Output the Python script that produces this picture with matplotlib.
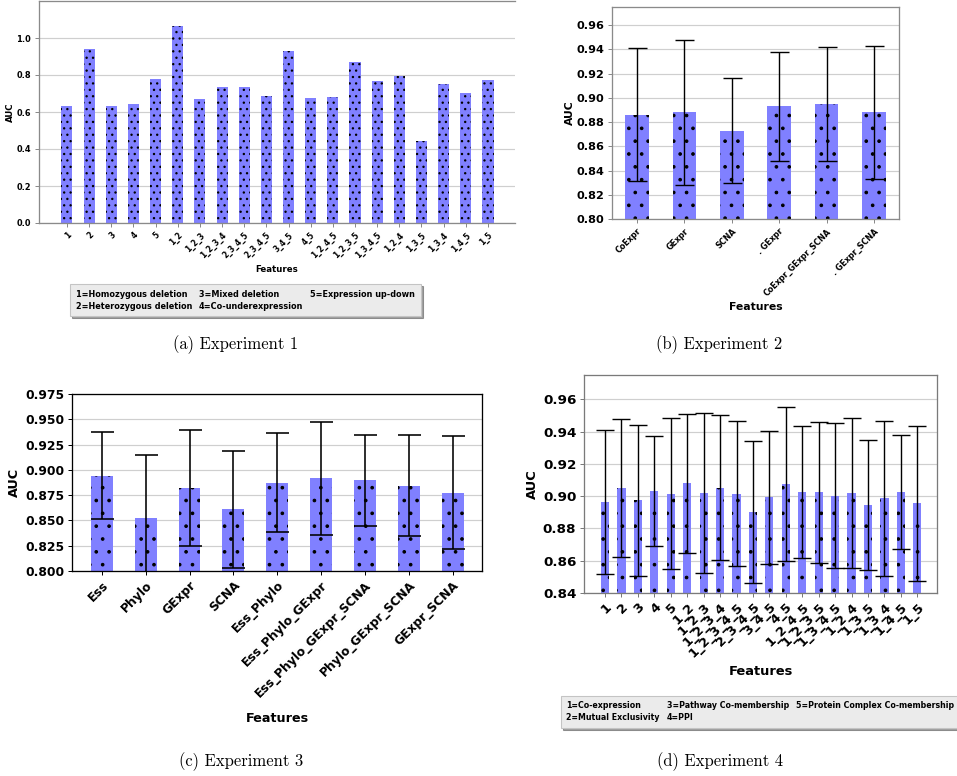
import numpy as np
import matplotlib
matplotlib.use("Agg")
import matplotlib.pyplot as plt
from matplotlib.lines import Line2D
from matplotlib.ticker import FormatStrFormatter

DPI = 77
W, H = 957, 776
BAR = "#8080ff"

plt.rcParams["font.family"] = "DejaVu Sans"
plt.rcParams["font.weight"] = "bold"
plt.rcParams["axes.labelweight"] = "bold"
plt.rcParams["hatch.color"] = "black"


def px(v):
    # pixel size -> points at the working dpi
    return v * 72 / DPI


# ---- Experiment 1 ----
exp1_labels = ["1", "2", "3", "4", "5", "1_2", "1_2_3", "1_2_3_4", "2_3_4_5",
               "2_3_4_5", "3_4_5", "4_5", "1_2_4_5", "1_2_3_5", "1_3_4_5",
               "1_2_4", "1_3_5", "1_3_4", "1_4_5", "1_5"]
exp1_auc = [0.635, 0.939, 0.635, 0.643, 0.776, 1.065, 0.668, 0.736, 0.733,
            0.684, 0.928, 0.673, 0.682, 0.870, 0.769, 0.792, 0.442, 0.751,
            0.704, 0.775]
exp1_key = ["1=Homozygous deletion", "2=Heterozygous deletion",
            "3=Mixed deletion", "4=Co-underexpression", "5=Expression up-down"]

# ---- Experiment 2 ----
exp2_labels = ["CoExpr", "GExpr", "SCNA", ". GExpr", "CoExpr_GExpr_SCNA",
               ". GExpr_SCNA"]
exp2_auc = [0.886, 0.888, 0.873, 0.893, 0.895, 0.888]
exp2_err = [0.055, 0.060, 0.043, 0.045, 0.047, 0.055]

# ---- Experiment 3 ----
exp3_labels = ["Ess", "Phylo", "GExpr", "SCNA", "Ess_Phylo", "Ess_Phylo_GExpr",
               "Ess_Phylo_GExpr_SCNA", "Phylo_GExpr_SCNA", "GExpr_SCNA"]
exp3_auc = [0.894, 0.852, 0.882, 0.861, 0.8875, 0.8915, 0.8898, 0.8845, 0.8776]
exp3_err = [0.043, 0.063, 0.057, 0.058, 0.0485, 0.056, 0.045, 0.050, 0.056]

# ---- Experiment 4 ----
exp4_labels = ["1", "2", "3", "4", "5", "1_2", "1_2_3", "1_2_3_4", "1_2_3_4_5",
               "2_3_4_5", "3_4_5", "4_5", "1_2_4_5", "1_2_3_5", "1_3_4_5",
               "1_2_4", "1_3_5", "1_3_4", "1_4_5", "1_5"]
exp4_auc = [0.8965, 0.905, 0.8973, 0.9031, 0.9015, 0.908, 0.9019, 0.9052,
            0.9015, 0.890, 0.8992, 0.9074, 0.9027, 0.9025, 0.9002, 0.9019,
            0.8947, 0.8986, 0.9027, 0.8955]
exp4_err = [0.0447, 0.0425, 0.047, 0.034, 0.0466, 0.043, 0.0495, 0.0448,
            0.045, 0.044, 0.041, 0.0475, 0.041, 0.0437, 0.045, 0.0465,
            0.0403, 0.048, 0.0353, 0.0479]
exp4_key = ["1=Co-expression", "2=Mutual Exclusivity",
            "3=Pathway Co-membership", "4=PPI",
            "5=Protein Complex Co-membership"]

fig = plt.figure(figsize=(W / DPI, H / DPI), dpi=DPI)


def place(x0, y0, x1, y1):
    return fig.add_axes([x0 / W, 1 - y1 / H, (x1 - x0) / W, (y1 - y0) / H])


def bar_panel(ax, labels, auc, err, hatch, ylim, yticks, xlim, spine_col,
              tick_fs, xtick_fs, label_fs, ecap, elw):
    x = np.arange(len(labels))
    ax.bar(x, auc, width=0.5, color=BAR, hatch=hatch, linewidth=0, zorder=2)
    if err is not None:
        ax.errorbar(x, auc, yerr=err, fmt="none", ecolor="black",
                    elinewidth=px(elw), capsize=px(ecap), capthick=px(elw),
                    zorder=3)
    ax.set_ylim(*ylim)
    ax.set_xlim(*xlim)
    ax.set_yticks(yticks)
    ax.set_xticks(x, labels, rotation=45, ha="right", rotation_mode="anchor",
                  fontsize=px(xtick_fs))
    ax.tick_params(axis="y", labelsize=px(tick_fs))
    ax.tick_params(colors=spine_col, labelcolor="black", length=px(4),
                   width=px(1))
    ax.yaxis.grid(True, color="#cfcfcf", linewidth=px(1.2))
    ax.set_axisbelow(True)
    for s in ax.spines.values():
        s.set_color(spine_col)
        s.set_linewidth(px(1.3))
    ax.set_xlabel("Features", fontsize=px(label_fs))
    ax.set_ylabel("AUC", fontsize=px(label_fs))
    return ax


def key_box(entries, x0, y0, fs, colsp):
    handles = [Line2D([], [], linestyle="none") for _ in entries]
    fig.legend(handles, entries, ncol=3, loc="upper left",
               bbox_to_anchor=(x0 / W, 1 - y0 / H), handlelength=0,
               handletextpad=0, columnspacing=colsp, labelspacing=0.35,
               borderpad=0.7, prop={"weight": "bold", "size": px(fs)},
               frameon=True, fancybox=False, shadow=True,
               facecolor="#ebebeb", edgecolor="#c4c4c4", framealpha=1)


# (a)
ax1 = place(39, 1, 515, 223)
bar_panel(ax1, exp1_labels, exp1_auc, None, "..", (0, 1.2),
          [0, 0.2, 0.4, 0.6, 0.8, 1.0], (-1.26, 20.22), "#8a8a8a",
          8.2, 7.6, 8.6, 0, 0)
ax1.spines["right"].set_visible(False)
ax1.yaxis.set_major_formatter(FormatStrFormatter("%.1f"))
ax1.xaxis.labelpad = px(5)
ax1.yaxis.set_label_coords(-0.05, 0.5)
key_box(exp1_key, 66, 280, 8.1, 0.85)

# (b)
ax2 = place(612, 7, 899, 219)
bar_panel(ax2, exp2_labels, exp2_auc, exp2_err, ".", (0.8, 0.975),
          np.arange(0.80, 0.961, 0.02), (-0.53, 5.53), "#8a8a8a",
          11.2, 8, 10.9, 9.5, 1.4)
ax2.yaxis.set_major_formatter(FormatStrFormatter("%.2f"))
ax2.yaxis.labelpad = px(1)

# (c)
ax3 = place(72, 394, 482, 571)
bar_panel(ax3, exp3_labels, exp3_auc, exp3_err, ".", (0.8, 0.975),
          np.arange(0.800, 0.976, 0.025), (-0.68, 8.67), "black",
          12.3, 12.3, 12.8, 11.5, 1.6)
ax3.yaxis.set_major_formatter(FormatStrFormatter("%.3f"))
ax3.xaxis.labelpad = px(12)

# (d)
ax4 = place(584, 375, 937, 593)
bar_panel(ax4, exp4_labels, exp4_auc, exp4_err, ".", (0.84, 0.975),
          np.arange(0.84, 0.961, 0.02), (-1.28, 20.2), "#7a7a7a",
          13.5, 13, 13, 9, 1.4)
ax4.yaxis.set_major_formatter(FormatStrFormatter("%.2f"))
key_box(exp4_key, 557, 692, 7.9, 0.9)

# sub-figure captions
captions = ["(a) Experiment 1", "(b) Experiment 2",
            "(c) Experiment 3", "(d) Experiment 4"]
caption_xy = [(236, 345), (719, 345), (241, 762), (720, 762)]
for text, (cx, cy) in zip(captions, caption_xy):
    fig.text(cx / W, 1 - cy / H, text, ha="center", va="center",
             fontsize=px(16.6), fontfamily="cmr10", fontweight="normal")

fig.savefig("out.png", dpi=DPI)
